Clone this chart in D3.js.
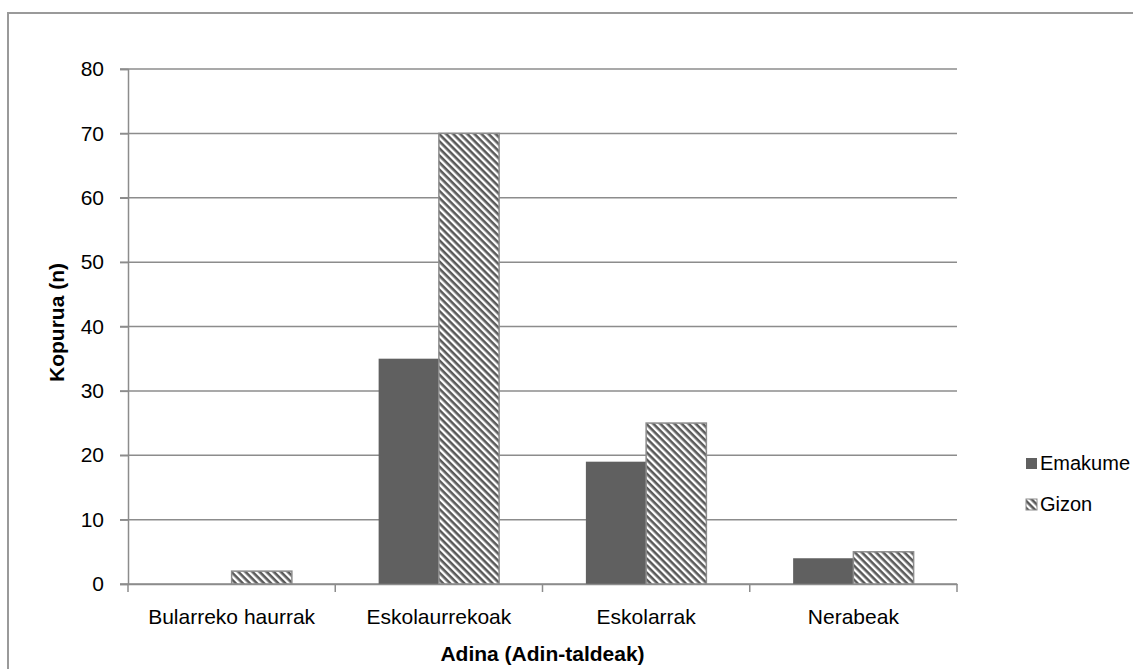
<!DOCTYPE html>
<html lang="eu">
<head>
  <meta charset="UTF-8">
  <title>Kopurua adin-taldeka</title>
  <script src="https://cdn.jsdelivr.net/npm/d3@7"></script>
  <style>
    body { margin: 0; background: #fff; }
    svg { display: block; font-family: "Liberation Sans", Arial, sans-serif; }
  </style>
</head>
<body>
<script>
  // datuak
  const categories = ["Bularreko haurrak", "Eskolaurrekoak", "Eskolarrak", "Nerabeak"];
  const seriesNames = ["Emakume", "Gizon"];
  const emakume = [0, 35, 19, 4];
  const gizon = [2, 70, 25, 5];
  const yTicks = [0, 10, 20, 30, 40, 50, 60, 70, 80];

  const W = 1133, H = 669;
  const margin = { left: 128, right: 176, top: 69, bottom: 85 };
  const fontSize = 21;

  const svg = d3.select('body').append('svg')
    .attr('width', W)
    .attr('height', H);

  // marradun eredua (Gizon)
  const defs = svg.append('defs');
  const pat = defs.append('pattern')
    .attr('id', 'hatch')
    .attr('patternUnits', 'userSpaceOnUse')
    .attr('width', 5).attr('height', 5)
    .attr('patternTransform', 'rotate(45)');
  pat.append('rect').attr('width', 5).attr('height', 5).attr('fill', '#fff');
  pat.append('rect').attr('x', 0).attr('y', 0).attr('width', 5).attr('height', 2.6).attr('fill', '#5a5a5a');

  // kanpoko markoa
  svg.append('rect')
    .attr('x', 8).attr('y', 13)
    .attr('width', 1140).attr('height', 680)
    .attr('fill', 'none')
    .attr('stroke', '#9a9a9a')
    .attr('stroke-width', 2);

  const x = d3.scaleBand()
    .domain(categories)
    .range([margin.left, W - margin.right]);

  const xs = d3.scaleBand()
    .domain(seriesNames)
    .range([0, x.bandwidth()])
    .paddingInner(0)
    .paddingOuter(0.72);

  const y = d3.scaleLinear()
    .domain([0, 80])
    .range([H - margin.bottom, margin.top]);

  // sareta
  svg.append('g')
    .selectAll('line')
    .data(yTicks)
    .enter().append('line')
    .attr('x1', margin.left - 8)
    .attr('x2', W - margin.right)
    .attr('y1', d => y(d))
    .attr('y2', d => y(d))
    .attr('stroke', '#8c8c8c')
    .attr('stroke-width', 1.5);

  // y ardatza
  const yAxis = svg.append('g')
    .attr('transform', `translate(${margin.left},0)`)
    .call(d3.axisLeft(y).tickValues(yTicks).tickSize(8).tickPadding(16));
  yAxis.select('.domain').attr('stroke', '#8c8c8c').attr('stroke-width', 1.5);
  yAxis.selectAll('.tick line').attr('stroke', '#8c8c8c').attr('stroke-width', 1.5);
  yAxis.selectAll('text').attr('font-size', fontSize).attr('fill', '#000')
    .style('font-family', '"Liberation Sans", Arial, sans-serif');

  // barrak
  const groups = svg.append('g')
    .selectAll('g')
    .data(categories)
    .enter().append('g')
    .attr('transform', d => `translate(${x(d)},0)`);

  groups.append('rect')
    .attr('x', xs('Emakume'))
    .attr('y', (d, i) => y(emakume[i]))
    .attr('width', xs.bandwidth())
    .attr('height', (d, i) => y(0) - y(emakume[i]))
    .attr('fill', '#606060');

  groups.append('rect')
    .attr('x', xs('Gizon'))
    .attr('y', (d, i) => y(gizon[i]))
    .attr('width', xs.bandwidth())
    .attr('height', (d, i) => y(0) - y(gizon[i]))
    .attr('fill', 'url(#hatch)')
    .attr('stroke', '#8c8c8c')
    .attr('stroke-width', 1.5);

  // x ardatza
  const xAxis = svg.append('g')
    .attr('transform', `translate(0,${y(0)})`)
    .call(d3.axisBottom(x).tickSize(0).tickPadding(25));
  xAxis.select('.domain').attr('stroke', '#8c8c8c').attr('stroke-width', 1.5);
  xAxis.selectAll('text').attr('font-size', fontSize).attr('fill', '#000')
    .style('font-family', '"Liberation Sans", Arial, sans-serif');
  // kategorien arteko marrak
  xAxis.selectAll('.sep')
    .data(d3.range(categories.length + 1))
    .enter().append('line')
    .attr('class', 'sep')
    .attr('x1', i => margin.left + i * x.step())
    .attr('x2', i => margin.left + i * x.step())
    .attr('y1', 0).attr('y2', 8)
    .attr('stroke', '#8c8c8c')
    .attr('stroke-width', 1.5);

  // ardatzen izenburuak
  svg.append('text')
    .attr('transform', `translate(64,${(y(0) + y(80)) / 2 - 4}) rotate(-90)`)
    .attr('text-anchor', 'middle')
    .attr('font-size', fontSize)
    .attr('font-weight', 'bold')
    .text('Kopurua (n)');

  svg.append('text')
    .attr('x', (margin.left + W - margin.right) / 2)
    .attr('y', 661)
    .attr('text-anchor', 'middle')
    .attr('font-size', fontSize)
    .attr('font-weight', 'bold')
    .text('Adina (Adin-taldeak)');

  // legenda
  const legend = svg.append('g')
    .selectAll('g')
    .data(seriesNames)
    .enter().append('g')
    .attr('transform', (d, i) => `translate(1026,${458 + i * 41})`);

  legend.append('rect')
    .attr('width', 11).attr('height', 11)
    .attr('fill', (d, i) => i === 0 ? '#606060' : 'url(#hatch)')
    .attr('stroke', (d, i) => i === 0 ? 'none' : '#8c8c8c');

  legend.append('text')
    .attr('x', 14)
    .attr('y', 12)
    .attr('font-size', 20)
    .text(d => d);
</script>
</body>
</html>
